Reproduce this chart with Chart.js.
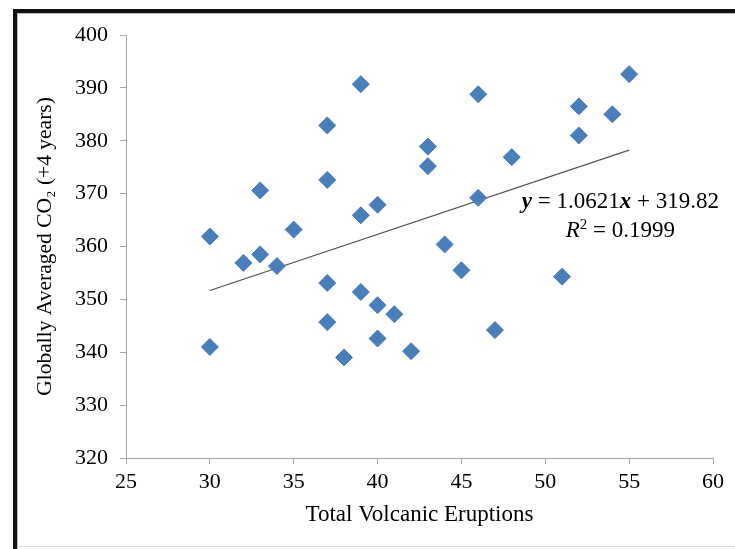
<!DOCTYPE html>
<html>
<head>
<meta charset="utf-8">
<script src="https://cdn.jsdelivr.net/npm/chart.js@4"></script>
<style>
  html, body { margin: 0; padding: 0; background: #fff; }
  #wrap { width: 735px; height: 549px; position: relative; }
</style>
</head>
<body>
<div id="wrap"><canvas id="chart" width="735" height="549"></canvas></div>
<script>
// eruptions (x) vs CO2 four years later (y)
const eruptions = [30, 30, 32, 33, 33, 34, 35, 37, 37, 37, 37, 38, 39, 39, 39, 40, 40, 40, 41, 42, 43, 43, 44, 45, 46, 46, 47, 48, 51, 52, 52, 54, 55];
const co2 = [361.9, 341.0, 356.9, 358.5, 370.6, 356.3, 363.2, 382.9, 372.6, 353.1, 345.7, 339.0, 390.7, 365.9, 351.4, 367.9, 348.9, 342.6, 347.2, 340.2, 378.9, 375.2, 360.4, 355.5, 388.8, 369.2, 344.2, 376.9, 354.3, 386.5, 381.0, 385.0, 392.6];

// linear trend endpoints (y = 1.0621x + 319.82)
const trendX = [30, 55];
const trendY = [351.68, 378.24];

const xTicks = [25, 30, 35, 40, 45, 50, 55, 60];
const yTicks = [320, 330, 340, 350, 360, 370, 380, 390, 400];

const SERIF = '"Liberation Serif", "Times New Roman", serif';
const AXIS_GREY = '#a6a6a6';

// frame around the figure + equation label
const decor = {
  id: 'decor',
  beforeDraw(chart) {
    const ctx = chart.ctx;
    ctx.save();
    ctx.fillStyle = '#fff';
    ctx.fillRect(0, 0, chart.width, chart.height);
    // outer black frame (left + top)
    ctx.fillStyle = '#111';
    ctx.fillRect(13, 9, 4, chart.height - 9);
    ctx.fillRect(13, 9, chart.width - 13, 4);
    ctx.fillStyle = '#bbb';
    ctx.fillRect(17, 13, 1, chart.height - 13);
    ctx.fillRect(17, 13, chart.width - 17, 1);
    ctx.fillStyle = '#ddd';
    ctx.fillRect(17, 546, chart.width - 17, 1);
    ctx.restore();
  },
  afterDraw(chart) {
    const ctx = chart.ctx;
    ctx.save();
    ctx.fillStyle = '#000';
    ctx.textBaseline = 'middle';
    const FS = 23;
    const parts = [['y', 'italic bold'], [' = 1.0621', ''], ['x', 'italic bold'], [' + 319.82', '']];
    let total = 0;
    parts.forEach(p => { ctx.font = p[1] + ' ' + FS + 'px ' + SERIF; total += ctx.measureText(p[0]).width; });
    let x = 719 - total;
    const eqCenter = x + total / 2;
    parts.forEach(p => {
      ctx.font = p[1] + ' ' + FS + 'px ' + SERIF;
      ctx.fillText(p[0], x, 202);
      x += ctx.measureText(p[0]).width;
    });
    // R² line, centred under the equation
    ctx.font = 'italic ' + FS + 'px ' + SERIF;
    const rW = ctx.measureText('R').width;
    ctx.font = '15px ' + SERIF;
    const sW = ctx.measureText('2').width;
    ctx.font = FS + 'px ' + SERIF;
    const restW = ctx.measureText(' = 0.1999').width;
    x = eqCenter - (rW + sW + restW) / 2;
    ctx.font = 'italic ' + FS + 'px ' + SERIF;
    ctx.fillText('R', x, 231); x += rW;
    ctx.font = '15px ' + SERIF;
    ctx.fillText('2', x, 225); x += sW;
    ctx.font = FS + 'px ' + SERIF;
    ctx.fillText(' = 0.1999', x, 231);
    ctx.restore();
  }
};

const points = eruptions.map((v, i) => ({ x: v, y: co2[i] }));
const trend = trendX.map((v, i) => ({ x: v, y: trendY[i] }));

new Chart(document.getElementById('chart'), {
  type: 'scatter',
  data: {
    datasets: [{
      label: 'CO2',
      data: points,
      pointStyle: 'rectRot',
      pointRadius: 8.5,
      pointHoverRadius: 8.5,
      backgroundColor: '#4a7ebb',
      borderColor: '#4a7ebb',
      borderWidth: 1
    }, {
      type: 'line',
      label: 'Trend',
      data: trend,
      borderColor: '#555',
      borderWidth: 1.3,
      pointRadius: 0,
      fill: false
    }]
  },
  options: {
    responsive: false,
    animation: false,
    devicePixelRatio: 1,
    layout: { autoPadding: false, padding: { left: 16, top: 35, right: 22, bottom: 8 } },
    plugins: { legend: { display: false }, tooltip: { enabled: false } },
    scales: {
      x: {
        type: 'linear',
        min: 25, max: 60,
        afterBuildTicks: s => { s.ticks = xTicks.map(v => ({ value: v })); },
        afterFit: s => { s.height = 83; },
        grid: { drawOnChartArea: false, drawTicks: true, tickLength: 6, color: AXIS_GREY },
        border: { color: AXIS_GREY, width: 1 },
        ticks: { color: '#000', padding: 5, font: { family: SERIF, size: 22 } },
        title: { display: true, text: 'Total Volcanic Eruptions', color: '#000', font: { family: SERIF, size: 23 }, padding: { top: 0, bottom: 12 } }
      },
      y: {
        type: 'linear',
        min: 320, max: 400,
        afterBuildTicks: s => { s.ticks = yTicks.map(v => ({ value: v })); },
        afterFit: s => { s.width = 110; },
        grid: { drawOnChartArea: false, drawTicks: true, tickLength: 6, color: AXIS_GREY },
        border: { color: AXIS_GREY, width: 1 },
        ticks: { color: '#000', padding: 12, font: { family: SERIF, size: 22 } },
        title: { display: true, text: 'Globally Averaged CO\u2082 (+4 years)', color: '#000', font: { family: SERIF, size: 21.5 }, padding: { top: 16, bottom: 0 } }
      }
    }
  },
  plugins: [decor]
});
</script>
</body>
</html>
